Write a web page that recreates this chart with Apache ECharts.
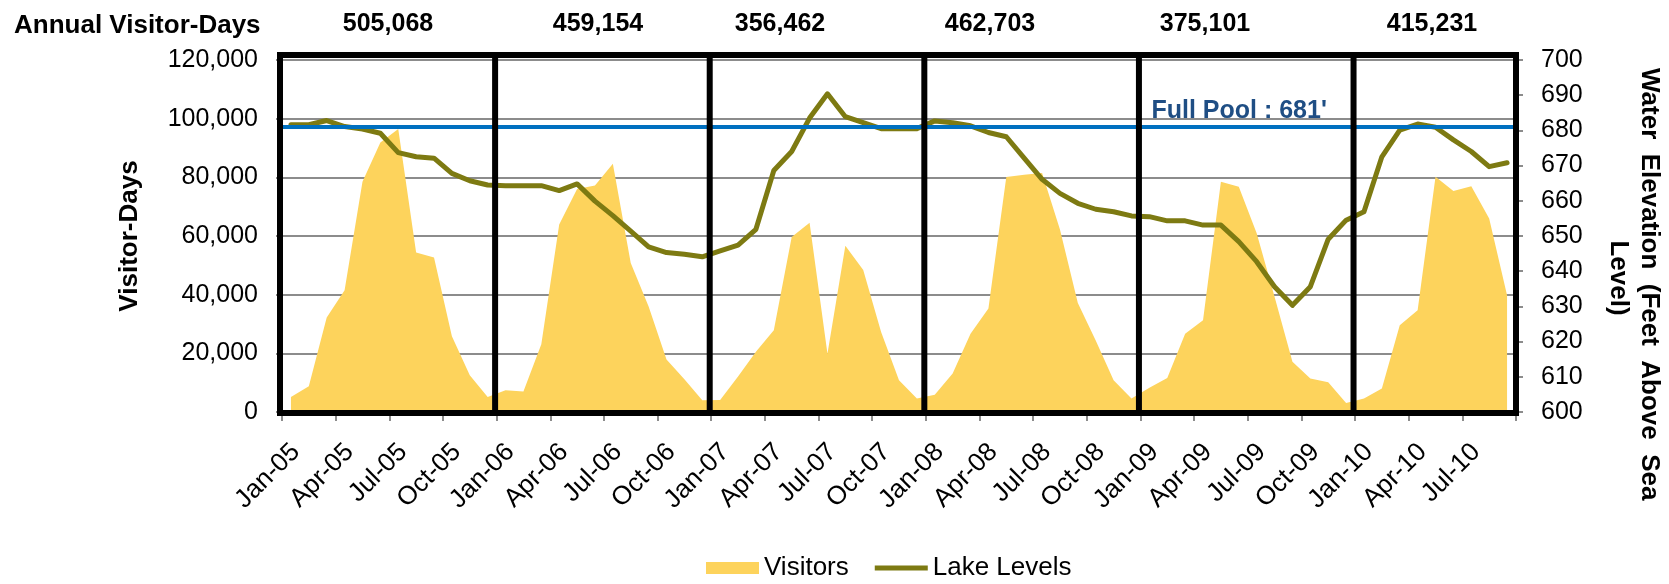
<!DOCTYPE html>
<html>
<head>
<meta charset="utf-8">
<script src="https://cdn.jsdelivr.net/npm/echarts@6/dist/echarts.min.js"></script>
<style>
  html, body { margin: 0; padding: 0; background: #ffffff; }
  #chart { width: 1669px; height: 584px; }
</style>
</head>
<body>
<div id="chart"></div>
<script>
// Monthly categories, Jan 2005 through Sep 2010
const months = [
  'Jan-05','Feb-05','Mar-05','Apr-05','May-05','Jun-05','Jul-05','Aug-05','Sep-05','Oct-05','Nov-05','Dec-05',
  'Jan-06','Feb-06','Mar-06','Apr-06','May-06','Jun-06','Jul-06','Aug-06','Sep-06','Oct-06','Nov-06','Dec-06',
  'Jan-07','Feb-07','Mar-07','Apr-07','May-07','Jun-07','Jul-07','Aug-07','Sep-07','Oct-07','Nov-07','Dec-07',
  'Jan-08','Feb-08','Mar-08','Apr-08','May-08','Jun-08','Jul-08','Aug-08','Sep-08','Oct-08','Nov-08','Dec-08',
  'Jan-09','Feb-09','Mar-09','Apr-09','May-09','Jun-09','Jul-09','Aug-09','Sep-09','Oct-09','Nov-09','Dec-09',
  'Jan-10','Feb-10','Mar-10','Apr-10','May-10','Jun-10','Jul-10','Aug-10','Sep-10'
];

// Monthly visitor-days
const visitors = [
  5100, 8800, 32200, 41500, 78500, 91900, 96500, 54400, 52700, 25800, 12500, 5100,
  7400, 7000, 23100, 63900, 76000, 77200, 84600, 50800, 36000, 17900, 11200, 4000,
  4100, 12100, 20500, 27900, 59700, 64500, 19900, 56700, 48400, 27300, 10800, 4600,
  5900, 13100, 26700, 35300, 80100, 80900, 81500, 62200, 37200, 24400, 10800, 4600,
  8300, 11600, 26700, 31300, 78500, 76800, 60900, 39300, 17100, 11400, 10100, 3100,
  4600, 8000, 29600, 34700, 80200, 75300, 77000, 66000, 39800
];

// Monthly lake elevation, feet above sea level
const lakeLevels = [
  681.6, 681.6, 682.8, 681.1, 680.4, 679.2, 673.7, 672.5, 672.1, 667.8, 665.7, 664.5,
  664.3, 664.3, 664.3, 662.9, 664.8, 659.9, 655.8, 651.4, 646.9, 645.3, 644.8, 644.1,
  645.8, 647.4, 651.9, 668.6, 674.0, 683.5, 690.4, 683.9, 682.2, 680.5, 680.5, 680.5,
  682.7, 682.2, 681.3, 679.4, 678.2, 672.1, 666.1, 662.1, 659.3, 657.6, 656.9, 655.7,
  655.5, 654.3, 654.3, 653.1, 653.1, 648.4, 642.7, 635.6, 630.3, 635.6, 649.1, 654.5,
  656.9, 672.5, 680.1, 681.8, 680.9, 677.3, 674.0, 669.7, 670.8
];

// Annual visitor-day totals, 2005-2010
const annualTotals = ['505,068', '459,154', '356,462', '462,703', '375,101', '415,231'];

// Category indices where each calendar year starts, plus the end of the series
const yearStarts = [0, 12, 24, 36, 48, 60, 69];

const fullPoolLevel = 681;

const FONT = '"Liberation Sans", Arial, Helvetica, sans-serif';
const YELLOW = '#FDD35C';
const OLIVE = '#7D7A12';

// Legend swatch for the lake line: a 5px bar inside a 12px-tall box
// (the tiny corner triangles only fix the icon's bounding box)
const LINE_ICON = 'path://M0,0L0.01,0L0,0.01Z M0,12L0.01,12L0,11.99Z M0,3.5L54,3.5L54,8.5L0,8.5Z';

const chart = echarts.init(document.getElementById('chart'), null, { renderer: 'canvas' });

const option = {
  animation: false,
  backgroundColor: '#ffffff',
  textStyle: { fontFamily: FONT, color: '#000' },
  grid: { left: 282, right: 153, top: 60, bottom: 172, containLabel: false, outerBoundsMode: 'none' },
  legend: {
    left: 706, top: 555, padding: 0,
    itemWidth: 53, itemHeight: 12, itemGap: 26,
    textStyle: { fontSize: 26, color: '#000', fontFamily: FONT },
    data: [
      { name: 'Visitors', icon: 'rect', itemStyle: { color: YELLOW } },
      { name: 'Lake Levels', icon: LINE_ICON, itemStyle: { color: OLIVE } }
    ]
  },
  xAxis: {
    type: 'category',
    data: months,
    boundaryGap: true,
    axisLine: { show: false },
    axisTick: { show: true, interval: 2, length: 9, lineStyle: { color: '#8c8c8c', width: 2 } },
    axisLabel: {
      interval: 2, rotate: 45, fontSize: 26, color: '#000', margin: 31, fontFamily: FONT,
      verticalAlign: 'top', lineHeight: 14
    },
    splitLine: { show: false }
  },
  yAxis: [
    {
      type: 'value', min: 0, max: 120000, interval: 20000, position: 'left',
      axisLine: { show: false },
      axisTick: { show: true, length: 6, lineStyle: { color: '#8c8c8c', width: 2 } },
      axisLabel: {
        fontSize: 25, color: '#000', margin: 24, fontFamily: FONT, padding: [6, 0, 0, 0],
        formatter: v => v.toLocaleString('en-US')
      },
      splitLine: { show: true, lineStyle: { color: '#8c8c8c', width: 2 } }
    },
    {
      type: 'value', min: 600, max: 700, interval: 10, position: 'right',
      axisLine: { show: false },
      axisTick: { show: true, length: 7, lineStyle: { color: '#8c8c8c', width: 2 } },
      axisLabel: { fontSize: 25, color: '#000', margin: 25, fontFamily: FONT, padding: [4, 0, 0, 0] },
      splitLine: { show: false }
    }
  ],
  series: [
    {
      name: 'Visitors',
      type: 'line',
      data: visitors,
      yAxisIndex: 0,
      symbol: 'none',
      itemStyle: { color: YELLOW },
      lineStyle: { width: 0, color: YELLOW },
      areaStyle: { color: YELLOW, opacity: 1 },
      z: 2
    },
    {
      name: 'Lake Levels',
      type: 'line',
      data: lakeLevels,
      yAxisIndex: 1,
      symbol: 'none',
      itemStyle: { color: OLIVE },
      lineStyle: { width: 5, color: OLIVE, cap: 'round', join: 'round' },
      z: 3
    },
    {
      name: 'Full Pool',
      type: 'line',
      data: [],
      yAxisIndex: 1,
      z: 20,
      silent: true,
      markLine: {
        silent: true,
        symbol: 'none',
        label: { show: false },
        lineStyle: { color: '#0070C0', width: 4, type: 'solid' },
        data: [{ yAxis: fullPoolLevel }]
      }
    }
  ]
};

chart.setOption(option);

// Year boxes, headings and the full-pool caption, placed through the axes' scales
const px = i => chart.convertToPixel({ xAxisIndex: 0 }, i);
const band = px(1) - px(0);
const edge = k => px(0) + (k - 0.5) * band;
const pyL = v => chart.convertToPixel({ yAxisIndex: 0 }, v);
const pyR = v => chart.convertToPixel({ yAxisIndex: 1 }, v);

const yTop = pyL(120000) - 5;
const yBot = pyL(0) + 1;
const xLeft = edge(0) - 2;
const xRight = edge(69);
const BOX_W = 6;

const graphics = [];
yearStarts.forEach((k, idx) => {
  const x = idx === 0 ? xLeft : (k === 69 ? xRight : edge(k) - 1.5);
  graphics.push({
    type: 'line', z: 15, silent: true,
    shape: { x1: x, y1: yTop - BOX_W / 2, x2: x, y2: yBot + BOX_W / 2 },
    style: { stroke: '#000', lineWidth: BOX_W }
  });
});
[yTop, yBot].forEach(y => {
  graphics.push({
    type: 'line', z: 15, silent: true,
    shape: { x1: xLeft - BOX_W / 2, y1: y, x2: xRight + BOX_W / 2, y2: y },
    style: { stroke: '#000', lineWidth: BOX_W }
  });
});

graphics.push({
  type: 'text', z: 30, x: 14, y: 26,
  style: { text: 'Annual Visitor-Days', font: 'bold 26px ' + FONT, fill: '#000', align: 'left', verticalAlign: 'middle' }
});

const totalCenters = [388, 598, 780, 990, 1205, 1432];
annualTotals.forEach((t, i) => {
  graphics.push({
    type: 'text', z: 30, x: totalCenters[i], y: 24,
    style: { text: t, font: 'bold 25px ' + FONT, fill: '#000', align: 'center', verticalAlign: 'middle' }
  });
});

graphics.push({
  type: 'text', z: 30, x: 130, y: 236, rotation: Math.PI / 2,
  style: { text: 'Visitor-Days', font: 'bold 26px ' + FONT, fill: '#000', align: 'center', verticalAlign: 'middle' }
});

// Right-hand axis title, set in two rotated lines with loose word spacing
graphics.push({
  type: 'text', z: 30, x: 1649, y: 68, rotation: -Math.PI / 2,
  style: {
    text: 'Water  Elevation  (Feet  Above  Sea', font: 'bold 26px ' + FONT, fill: '#000',
    align: 'left', verticalAlign: 'middle'
  }
});
graphics.push({
  type: 'text', z: 30, x: 1618, y: 278, rotation: -Math.PI / 2,
  style: { text: 'Level)', font: 'bold 26px ' + FONT, fill: '#000', align: 'center', verticalAlign: 'middle' }
});

graphics.push({
  type: 'text', z: 30, x: edge(48) + 11, y: pyR(fullPoolLevel) - 16,
  style: { text: "Full Pool : 681'", font: 'bold 25px ' + FONT, fill: '#1F4E84', align: 'left', verticalAlign: 'middle' }
});

chart.setOption({ graphic: graphics });
</script>
</body>
</html>
